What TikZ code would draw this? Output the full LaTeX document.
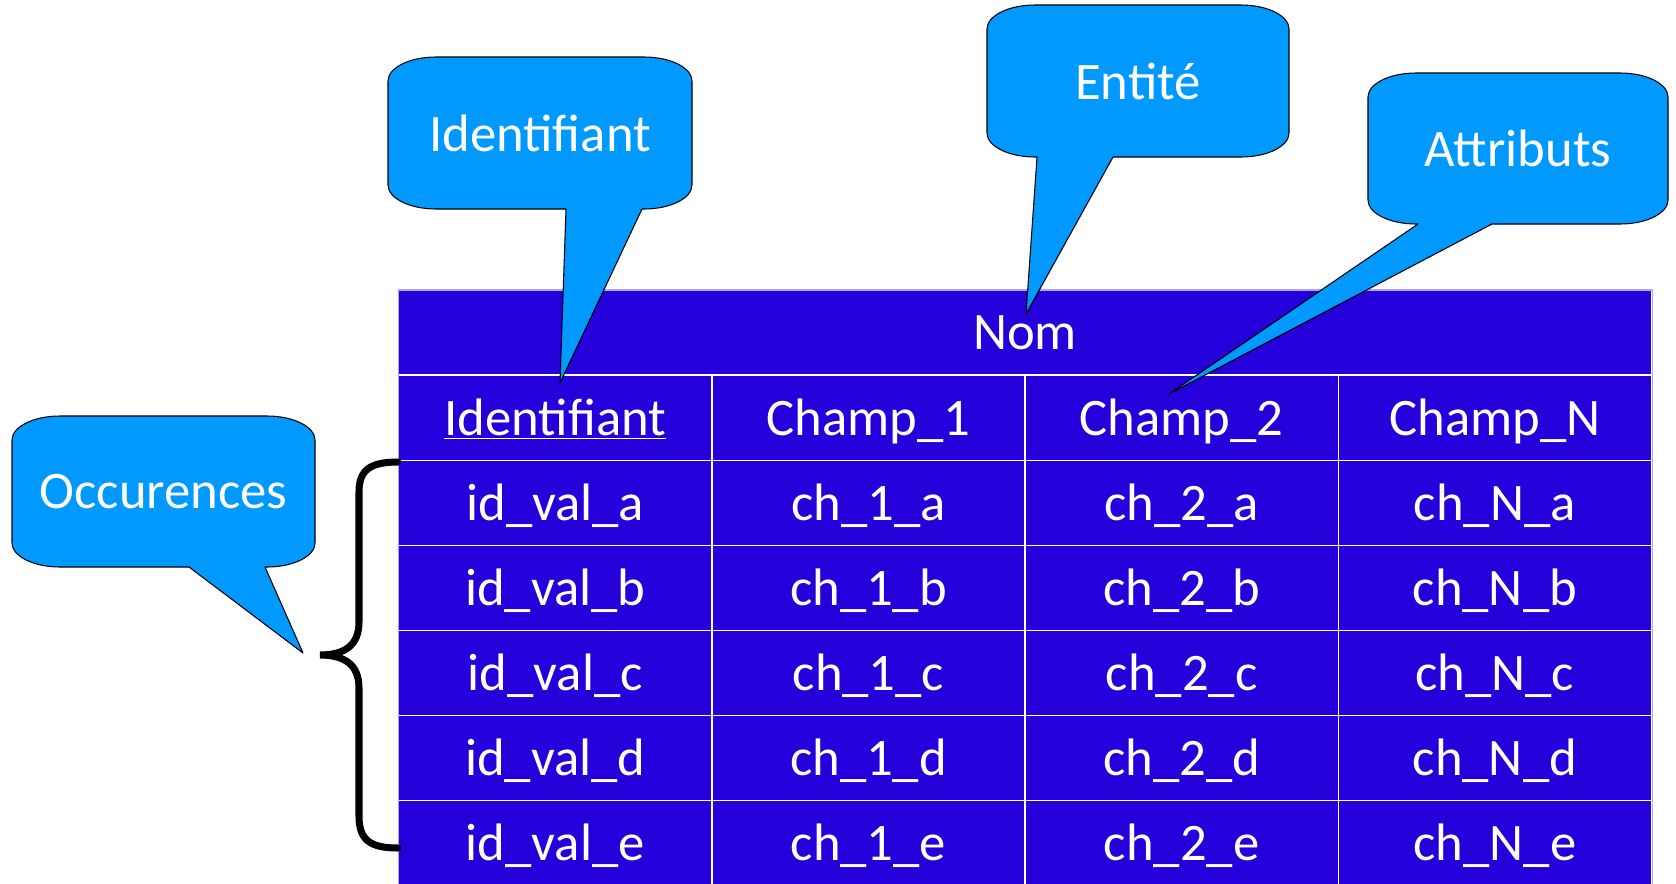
\documentclass[tikz,border=0pt]{standalone}
\usepackage{fontspec}
\setmainfont{Carlito}
\usetikzlibrary{matrix,positioning}

\definecolor{fondtable}{RGB}{38,0,218}
\definecolor{bleubulle}{RGB}{0,153,255}
\definecolor{bordtable}{RGB}{175,165,240}

\tikzset{
  cellule/.style={draw=white, line width=0.8pt, fill=fondtable, text=white,
    minimum width=6.265cm, minimum height=1.7cm, inner sep=0pt, outer sep=0pt,
    text height=25.5pt, text depth=6pt},
  bulle/.style={fill=bleubulle, draw=black, line width=0.6pt, line join=round},
  textebulle/.style={text=white, inner sep=0pt},
  accolade/.style={draw=black, line width=4pt, line cap=round}
}

% bulle : nom, gauche, haut, droite, bas, base1, base2, pointe, texte
\newcommand{\bulle}[9]{%
  \filldraw[bulle] ({#2+48},#3) -- ({#4-48},#3)
    .. controls ({#4-21.5},#3) and (#4,{#3+10.8}) .. (#4,{#3+24})
    -- (#4,{#5-24})
    .. controls (#4,{#5-10.8}) and ({#4-21.5},#5) .. ({#4-48},#5)
    -- (#7,#5) -- #8 -- (#6,#5) -- ({#2+48},#5)
    .. controls ({#2+21.5},#5) and (#2,{#5-10.8}) .. (#2,{#5-24})
    -- (#2,{#3+24})
    .. controls (#2,{#3+10.8}) and ({#2+21.5},#3) .. ({#2+48},#3) -- cycle;
  \node[textebulle] (#1) at ({(#2+#4)/2},{(#3+#5)/2}) {#9};
}

\begin{document}
\begin{tikzpicture}[x=0.02cm, y=-0.02cm]
\tikzstyle{every node}=[font=\fontsize{30}{36}\selectfont]
\useasboundingbox (0,0) rectangle (1676,883);
\clip (0,0) rectangle (1676,883);

% la table
\matrix (tab) [matrix of nodes, anchor=north west, inner sep=0pt, outer sep=0pt,
  column sep=-0.8pt, row sep=-0.8pt, nodes={cellule}] at (398,375) {
  \underline{Identifiant} & Champ\_1 & Champ\_2 & Champ\_N \\
  id\_val\_a & ch\_1\_a & ch\_2\_a & ch\_N\_a \\
  id\_val\_b & ch\_1\_b & ch\_2\_b & ch\_N\_b \\
  id\_val\_c & ch\_1\_c & ch\_2\_c & ch\_N\_c \\
  id\_val\_d & ch\_1\_d & ch\_2\_d & ch\_N\_d \\
  id\_val\_e & ch\_1\_e & ch\_2\_e & ch\_N\_e \\
};
\node[cellule, minimum width=25.06cm, above=0pt of tab] (nom) {Nom};
\draw[bordtable, line width=0.6pt] (nom.north west) rectangle (tab.south east);

% accolade des occurences
\coordinate (hautAcc) at (398,462);
\coordinate (basAcc) at (398,848);
\coordinate (pointeAcc) at (320,655);
\draw[accolade] (hautAcc) .. controls (370,462) and (359,470) .. (359,492)
  -- (359,622) .. controls (359,645) and (345,655) .. (pointeAcc)
  .. controls (345,655) and (359,665) .. (359,688)
  -- (359,816) .. controls (359,840) and (370,848) .. (basAcc);

% les bulles
\coordinate (pointeId) at (560,383);
\coordinate (pointeEnt) at (1026,314);
\coordinate (pointeAttr) at (1169,394);
\coordinate (pointeOcc) at (303,653);
\bulle{bulleId}{388}{57}{692}{209}{566}{642}{(pointeId)}{Identifiant}
\bulle{bulleEnt}{987}{5}{1289}{157}{1037}{1113}{(pointeEnt)}{Entité}
\bulle{bulleAttr}{1368}{73}{1668}{224}{1418}{1492}{(pointeAttr)}{Attributs}
\bulle{bulleOcc}{12}{416}{315}{567}{189}{265}{(pointeOcc)}{Occurences}

\end{tikzpicture}
\end{document}
